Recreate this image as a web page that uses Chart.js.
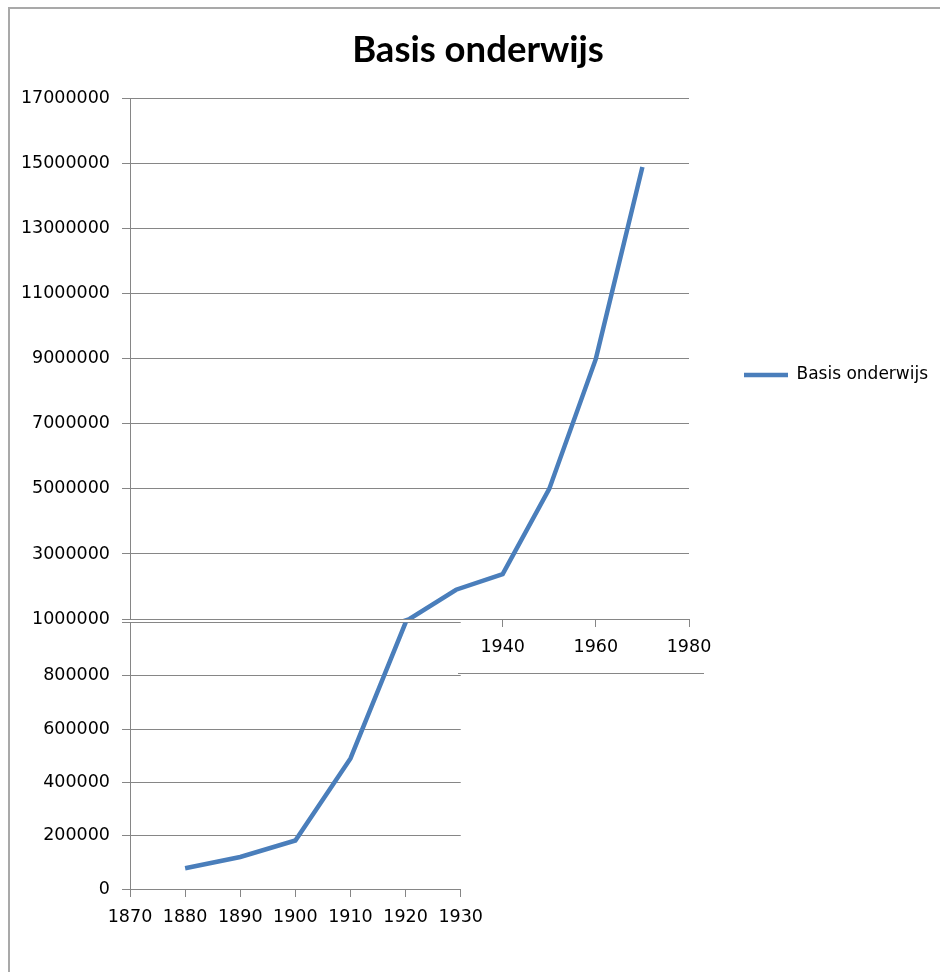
<!DOCTYPE html>
<html>
<head>
<meta charset="utf-8">
<title>Basis onderwijs</title>
<script src="https://cdn.jsdelivr.net/npm/chart.js@4.4.0/dist/chart.umd.min.js"></script>
<style>
  html, body { margin: 0; padding: 0; background: #fff; overflow: hidden; }
  #wrap { position: relative; width: 940px; height: 972px; overflow: hidden; }
  #wrap canvas, #wrap div { position: absolute; }
  #chartBoven { left: 0; top: 0; }
  /* witte vlakken: het onderste grafiekje ligt over het bovenste heen */
  #afdekking1 { left: 112px; top: 620px; width: 358px; height: 52px; background: #fff; }
  #afdekking2 { left: 100px; top: 628px; width: 12px; height: 44px; background: #fff; }
  #chartOnder { left: 0; top: 600px; }
  #lijn800 { left: 458px; top: 673px; width: 246px; height: 1px; background: #868686; }
  #kader { left: 8px; top: 7px; width: 960px; height: 990px; border-left: 2px solid #a9a9a9; border-top: 2px solid #a9a9a9; }
</style>
</head>
<body>
<div id="wrap">
  <canvas id="chartBoven" width="940" height="972"></canvas>
  <div id="afdekking1"></div>
  <div id="afdekking2"></div>
  <canvas id="chartOnder" width="493" height="372"></canvas>
  <div id="lijn800"></div>
  <div id="kader"></div>
</div>
<script>
// --- Data ---
const jaren = [1880, 1890, 1900, 1910, 1920, 1930, 1940, 1950, 1960, 1970];
const leerlingen = [78000, 120000, 182000, 490000, 1000000, 1900000, 2380000, 5000000, 9000000, 14900000];
const reeksNaam = 'Basis onderwijs';

// assen van de bovenste grafiek: [min, max, stap]
const bovenX = [1860, 1980, 20];
const bovenY = [1000000, 17000000, 2000000];
// assen van de onderste grafiek
const onderX = [1870, 1930, 10];
const onderY = [0, 1000000, 200000];

const BLAUW = '#4a7ebb';
const GRIJS = '#868686';
const TEKST = '#000';
const asFont = { family: 'DejaVu Sans', size: 17.5 };

const punten = jaren.map((j, i) => ({ x: j, y: leerlingen[i] }));

function reeks() {
    return {
        label: reeksNaam,
        data: punten,
        borderColor: BLAUW,
        backgroundColor: BLAUW,
        borderWidth: 4.5,
        pointRadius: 0,
        pointStyle: 'line',
        tension: 0
    };
}

function xAs(bereik, hoogte) {
    return {
        type: 'linear',
        min: bereik[0],
        max: bereik[1],
        ticks: { stepSize: bereik[2], callback: v => String(v), color: TEKST, font: asFont, padding: 10, maxRotation: 0, autoSkip: false },
        grid: { drawOnChartArea: false, tickLength: 8, color: GRIJS },
        border: { color: GRIJS },
        afterFit: s => { s.height = hoogte; }
    };
}

function yAs(bereik, breedte, verbergMax) {
    return {
        min: bereik[0],
        max: bereik[1],
        ticks: {
            stepSize: bereik[2],
            callback: v => (verbergMax && v === bereik[1]) ? '' : String(v),
            color: TEKST, font: asFont, padding: 12
        },
        grid: { color: GRIJS, tickLength: 8 },
        border: { color: GRIJS },
        afterFit: s => { s.width = breedte; }
    };
}

// legenda een vaste breedte geven zodat het plotvlak bij x=689 stopt
const legendaBreedte = {
    id: 'legendaBreedte',
    beforeLayout(chart) {
        const lg = chart.legend;
        if (lg && !lg._vast) {
            const fit = lg.fit.bind(lg);
            lg.fit = function () { fit(); this.width = 251; };
            lg._vast = true;
        }
    }
};

// --- Bovenste grafiek (1 miljoen en hoger) ---
new Chart(document.getElementById('chartBoven'), {
    type: 'line',
    data: { datasets: [reeks()] },
    plugins: [legendaBreedte],
    options: {
        responsive: false,
        animation: false,
        layout: { padding: { left: 16, top: 0, right: 0, bottom: 222 } },
        plugins: {
            title: {
                display: true,
                text: reeksNaam,
                color: TEKST,
                font: { family: 'Lato', size: 36.5, weight: 'bold' },
                padding: { top: 28, bottom: 27 }
            },
            legend: {
                position: 'right',
                labels: {
                    usePointStyle: true,
                    pointStyleWidth: 44,
                    padding: 55,
                    color: TEKST,
                    font: { family: 'DejaVu Sans', size: 17 }
                }
            },
            tooltip: { enabled: false }
        },
        scales: {
            x: xAs(bovenX, 131),
            y: yAs(bovenY, 114, false)
        }
    }
});

// --- Onderste grafiek (tot 1 miljoen) ---
new Chart(document.getElementById('chartOnder'), {
    type: 'line',
    data: { datasets: [reeks()] },
    options: {
        responsive: false,
        animation: false,
        layout: { padding: { left: 0, top: 19, right: 24, bottom: 0 } },
        plugins: {
            legend: { display: false },
            title: { display: false },
            tooltip: { enabled: false }
        },
        scales: {
            x: xAs(onderX, 83),
            y: yAs(onderY, 130, true)
        }
    }
});
</script>
</body>
</html>
